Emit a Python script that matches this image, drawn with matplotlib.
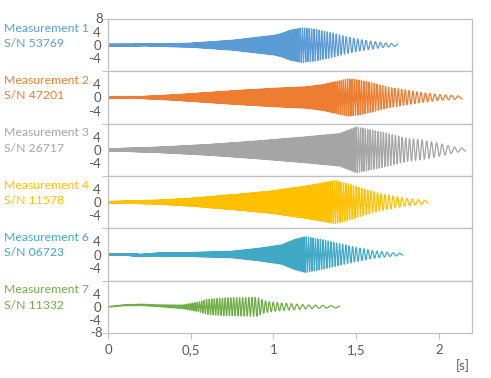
import numpy as np
import matplotlib
matplotlib.use("Agg")
import matplotlib.pyplot as plt

plt.rcParams['font.family'] = ['Lato', 'DejaVu Sans']

# ---- data ----
labels = ["Measurement 1", "Measurement 2", "Measurement 3",
          "Measurement 4", "Measurement 6", "Measurement 7"]
serials = ["S/N 53769", "S/N 47201", "S/N 26717", "S/N 11578", "S/N 06723", "S/N 11332"]
colors = ["#5B9BD5", "#ED7D31", "#A5A5A5", "#FFC000", "#41A9C6", "#70AD47"]

# envelope knots (time [s], amplitude)
env_t_1 = [0, 0.3, 0.5, 0.75, 0.9, 1.0, 1.05, 1.1, 1.17, 1.25, 1.35, 1.45, 1.55, 1.65, 1.75]
env_a_1 = [0.3, 0.35, 0.6, 1.5, 2.4, 3.0, 3.6, 4.6, 5.3, 4.9, 3.8, 2.5, 1.5, 0.8, 0.3]
env_t_2 = [0, 0.2, 0.4, 0.6, 0.8, 1.0, 1.2, 1.3, 1.45, 1.52, 1.6, 1.7, 1.8, 1.9, 2.0, 2.14]
env_a_2 = [0.3, 0.3, 0.8, 1.5, 2.2, 2.8, 3.3, 4.0, 5.7, 5.3, 4.4, 3.1, 2.3, 1.5, 0.9, 0.4]
env_t_3 = [0, 0.3, 0.6, 0.9, 1.2, 1.4, 1.5, 1.58, 1.69, 1.8, 1.9, 2.0, 2.1, 2.16]
env_a_3 = [0.3, 0.8, 1.6, 2.7, 4.0, 5.0, 7.0, 6.2, 5.0, 3.6, 3.0, 2.0, 0.8, 0.4]
env_t_4 = [0, 0.3, 0.5, 0.8, 1.0, 1.1, 1.2, 1.37, 1.45, 1.55, 1.65, 1.8, 1.93]
env_a_4 = [0.2, 0.6, 1.2, 2.5, 3.5, 4.3, 5.0, 6.6, 5.6, 4.0, 2.6, 1.2, 0.5]
env_t_6 = [0, 0.5, 0.75, 0.91, 1.05, 1.12, 1.19, 1.3, 1.4, 1.5, 1.6, 1.7, 1.78]
env_a_6 = [0.2, 0.6, 1.0, 1.9, 3.0, 4.5, 5.5, 4.5, 3.3, 2.2, 1.2, 0.6, 0.3]
env_t_7 = [0, 0.3, 0.45, 0.55, 0.6, 0.7, 0.8, 0.9, 0.95, 1.0, 1.1, 1.2, 1.3, 1.4]
env_a_7 = [0.1, 0.3, 0.6, 1.5, 2.3, 2.7, 2.8, 2.9, 1.8, 1.4, 1.0, 0.6, 0.4, 0.3]

# oscillation frequency knots (time [s], Hz)
freq_t_1 = [0, 1.17, 1.45, 1.75]
freq_f_1 = [400, 75, 45, 25]
freq_t_2 = [0, 1.45, 1.8, 2.14]
freq_f_2 = [400, 75, 45, 22]
freq_t_3 = [0, 1.5, 1.85, 2.16]
freq_f_3 = [400, 75, 40, 20]
freq_t_4 = [0, 1.37, 1.65, 1.93]
freq_f_4 = [400, 75, 45, 22]
freq_t_6 = [0, 1.19, 1.5, 1.78]
freq_f_6 = [400, 75, 45, 22]
freq_t_7 = [0, 0.6, 0.9, 1.1, 1.4]
freq_f_7 = [160, 65, 50, 32, 16]

# slow baseline drift knots (time [s], value)
base_t_1 = [0, 0.15, 0.22, 0.3, 1.75]
base_v_1 = [0, 0, 0.15, 0, 0]
base_t_6 = [0, 0.12, 0.2, 0.3, 1.78]
base_v_6 = [0, 0, -0.3, 0, 0]
base_t_7 = [0, 0.1, 0.2, 0.3, 0.45, 1.4]
base_v_7 = [0, 0.5, 0.6, 0.35, 0, 0]

env_t = [env_t_1, env_t_2, env_t_3, env_t_4, env_t_6, env_t_7]
env_a = [env_a_1, env_a_2, env_a_3, env_a_4, env_a_6, env_a_7]
freq_t = [freq_t_1, freq_t_2, freq_t_3, freq_t_4, freq_t_6, freq_t_7]
freq_f = [freq_f_1, freq_f_2, freq_f_3, freq_f_4, freq_f_6, freq_f_7]
base_t = [base_t_1, [0, 2.14], [0, 2.16], [0, 1.93], base_t_6, base_t_7]
base_v = [base_v_1, [0, 0], [0, 0], [0, 0], base_v_6, base_v_7]

xticks = [0, 0.5, 1, 1.5, 2]
xticklabels = ["0", "0,5", "1", "1,5", "2"]

# ---- figure ----
W, H = 491, 378
fig = plt.figure(figsize=(W / 100, H / 100), dpi=100)
left, right, top, bottom = 108 / W, 472 / W, 1 - 19 / H, 1 - 333 / H
n = 6
ph = (top - bottom) / n
grid = "#BFBFBF"
tickc = "#595959"
dt = 0.0001
fs_lab = 8.8
fs_tick = 9.5

for i in range(n):
    ax = fig.add_axes([left, top - (i + 1) * ph, right - left, ph])
    tt = np.arange(0, env_t[i][-1], dt)
    f = np.interp(tt, freq_t[i], freq_f[i])
    phase = 2 * np.pi * np.cumsum(f) * dt
    y = np.interp(tt, base_t[i], base_v[i]) + np.interp(tt, env_t[i], env_a[i]) * np.sin(phase)
    ax.plot(tt, y, color=colors[i], lw=0.9)
    ax.set_xlim(0, 2.2)
    ax.set_ylim(-8, 8)
    yt = [-4, 0, 4]
    ax.set_yticks(yt)
    ax.set_yticklabels([str(v) for v in yt])
    ax.tick_params(axis='y', length=0, pad=5, labelsize=fs_tick, colors=tickc)
    ax.set_yticks([-8, 8], minor=True)
    ax.tick_params(axis='y', which='minor', length=4, color=grid, direction='out')
    if i == 0:
        ax.text(-0.03, 8, "8", transform=ax.transData, ha='right',
                va='center', fontsize=fs_tick, color=tickc)
    if i == n - 1:
        ax.text(-0.03, -8, "-8", transform=ax.transData, ha='right',
                va='center', fontsize=fs_tick, color=tickc)
    for s in ax.spines.values():
        s.set_color(grid)
        s.set_linewidth(0.9)
    if i < n - 1:
        ax.set_xticks([])
    else:
        ax.set_xticks(xticks)
        ax.set_xticklabels(xticklabels)
        ax.tick_params(axis='x', length=4, color=grid, labelsize=fs_tick, labelcolor=tickc, pad=4)
    ax.text(-104 / 364, 0.5 + 17 / 52.3, labels[i], transform=ax.transAxes,
            ha='left', va='center', fontsize=fs_lab, color=colors[i])
    ax.text(-104 / 364, 0.5 + 1.5 / 52.3, serials[i], transform=ax.transAxes,
            ha='left', va='center', fontsize=fs_lab, color=colors[i])

fig.text(463 / W, 1 - 366 / H, "[s]", ha='center', va='center', fontsize=fs_tick, color=tickc)

fig.savefig("out.png", dpi=100)
